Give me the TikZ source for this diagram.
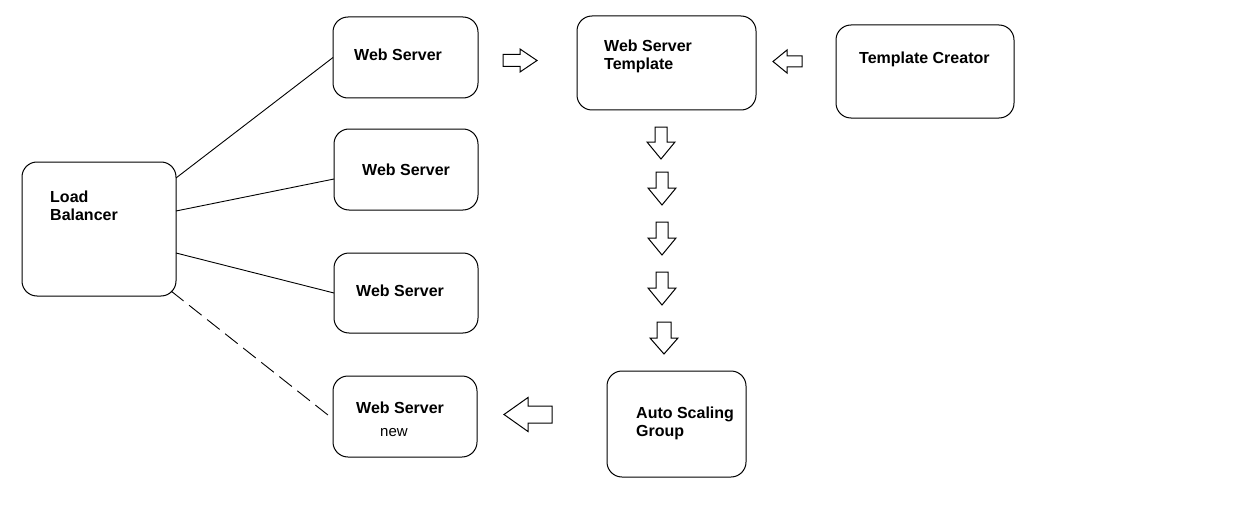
\documentclass[tikz,border=0pt]{standalone}
\usepackage{fontspec}
\setmainfont{Liberation Sans}
\usetikzlibrary{calc}
\tikzset{
  box/.style={draw=black, line width=1pt, rounded corners=15pt, inner sep=0pt, outer sep=0pt, fill=none},
  lbl/.style={anchor=base west, inner sep=0pt, font=\fontsize{16}{18}\selectfont\bfseries},
  sublbl/.style={anchor=base west, inner sep=0pt, font=\fontsize{15}{18}\selectfont},
  link/.style={draw=black, line width=0.9pt},
  dlink/.style={link, dash pattern=on 16pt off 7pt},
  arrowshape/.style={draw=black, line width=1pt, fill=white, line join=miter}
}
% #1 tail centre, #2 rotation, #3 length, #4 head length, #5 shaft half width, #6 head half width
\newcommand{\blkarrow}[6]{%
  \draw[arrowshape, shift={#1}, rotate=#2]
    (0,-#5) -- ({#3-#4},-#5) -- ({#3-#4},-#6) -- (#3,0) -- ({#3-#4},#6) -- ({#3-#4},#5) -- (0,#5) -- cycle;}
\begin{document}
\begin{tikzpicture}[x=1pt, y=-1pt]
\useasboundingbox (0,0) rectangle (1254,511);
\fill[white] (0,0) rectangle (1254,511);

% boxes
\node[box, anchor=north west, minimum width=154pt, minimum height=134pt] (lb) at (22,162) {};
\node[box, anchor=north west, minimum width=145pt, minimum height=81pt] (ws1) at (333,17) {};
\node[box, anchor=north west, minimum width=144pt, minimum height=81pt] (ws2) at (334,129) {};
\node[box, anchor=north west, minimum width=144pt, minimum height=80pt] (ws3) at (334,253) {};
\node[box, anchor=north west, minimum width=144pt, minimum height=81pt] (wsn) at (333,376) {};
\node[box, anchor=north west, minimum width=179pt, minimum height=94pt] (tpl) at (577,16) {};
\node[box, anchor=north west, minimum width=178pt, minimum height=93pt] (tc) at (836,25) {};
\node[box, anchor=north west, minimum width=139pt, minimum height=106pt] (asg) at (607,371) {};

% labels
\node[lbl] (lbt1) at (50,202) {Load};
\node[lbl] (lbt2) at (50,220) {Balancer};
\node[lbl] (ws1t) at (354,61) {Web Server};
\node[lbl] (ws2t) at (362,175) {Web Server};
\node[lbl] (ws3t) at (356,296) {Web Server};
\node[lbl] (wsnt) at (356,413) {Web Server};
\node[sublbl] (wsnt2) at (380,436) {new};
\node[lbl] (tplt1) at (604,52) {Web Server};
\node[lbl] (tplt2) at (604,70) {Template};
\node[lbl] (tct) at (859,64) {Template Creator};
\node[lbl] (asgt1) at (636,418) {Auto Scaling};
\node[lbl] (asgt2) at (636,436) {Group};

% connectors
\draw[link] ($(lb.east)+(0,-51)$) -- (ws1.west);
\draw[link] ($(lb.east)+(0,-18)$) -- ($(ws2.west)+(0,9.5)$);
\draw[link] ($(lb.east)+(0,24)$) -- (ws3.west);
\draw[dlink] ($(lb.south east)+(-5,-5)$) -- ($(wsn.west)+(0,2.5)$);

% block arrows
\blkarrow{(503,60.5)}{0}{34}{17}{6}{11.5}
\blkarrow{(802,61.5)}{180}{29}{14}{5.5}{11.5}
\blkarrow{(661,127)}{-90}{32}{17}{6}{14}
\blkarrow{(662,172)}{-90}{33}{17}{6}{14}
\blkarrow{(662,222)}{-90}{33}{17}{6}{14}
\blkarrow{(662,272)}{-90}{33}{17}{6}{14}
\blkarrow{(664,322)}{-90}{32}{16}{7}{14}
\blkarrow{(552,414.5)}{180}{48}{24}{8.5}{17}
\end{tikzpicture}
\end{document}
